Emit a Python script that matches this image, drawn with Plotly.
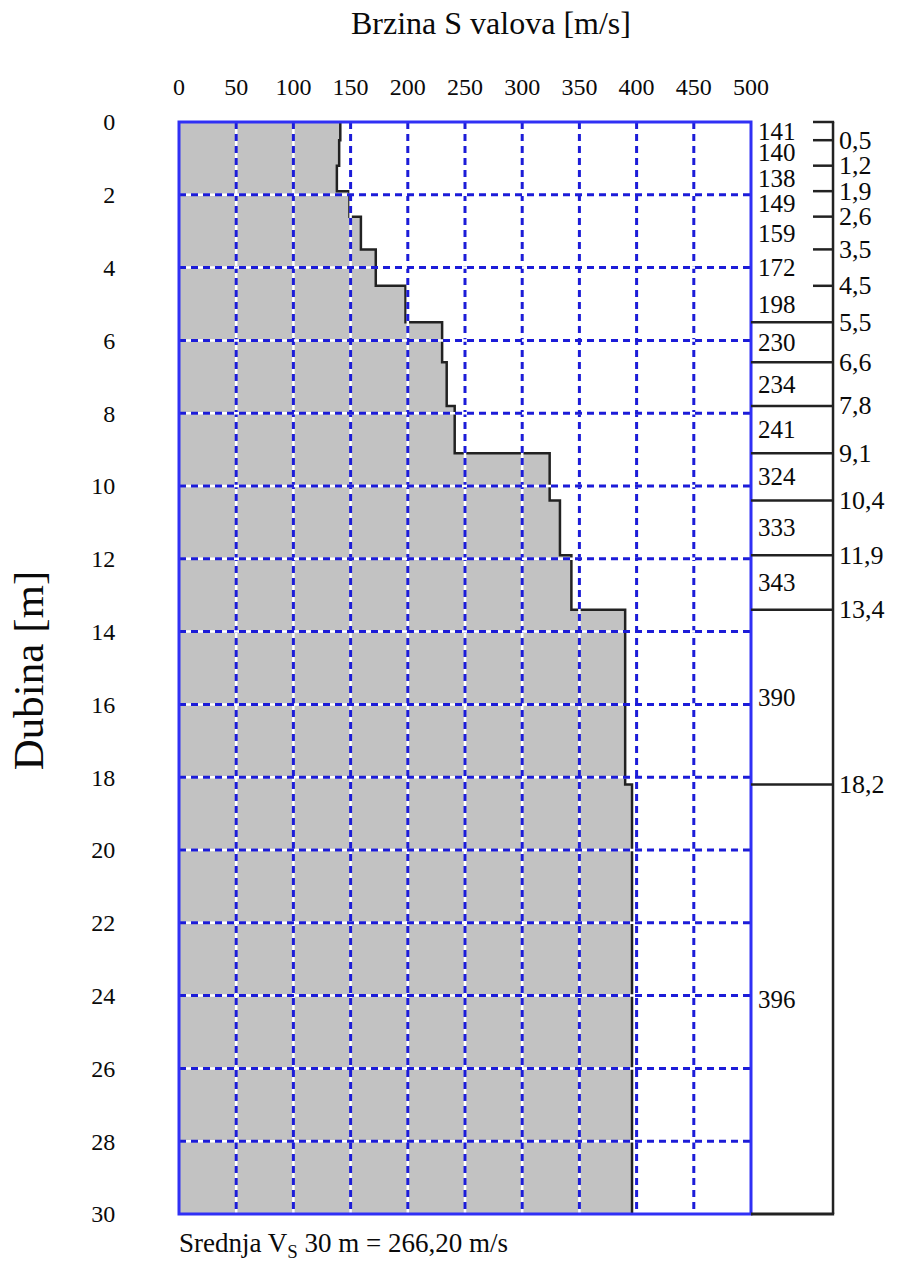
import plotly.graph_objects as go

# ---- data ----
layer_tops = [0, 0.5, 1.2, 1.9, 2.6, 3.5, 4.5, 5.5, 6.6, 7.8, 9.1, 10.4, 11.9, 13.4, 18.2]
layer_bottoms = [0.5, 1.2, 1.9, 2.6, 3.5, 4.5, 5.5, 6.6, 7.8, 9.1, 10.4, 11.9, 13.4, 18.2, 30]
vs_values = [141, 140, 138, 149, 159, 172, 198, 230, 234, 241, 324, 333, 343, 390, 396]
boundary_labels = ["0,5", "1,2", "1,9", "2,6", "3,5", "4,5", "5,5", "6,6", "7,8", "9,1",
                   "10,4", "11,9", "13,4", "18,2"]
boundary_depths = [0.5, 1.2, 1.9, 2.6, 3.5, 4.5, 5.5, 6.6, 7.8, 9.1, 10.4, 11.9, 13.4, 18.2]
full_boundaries = [5.5, 6.6, 7.8, 9.1, 10.4, 11.9, 13.4, 18.2]
short_ticks = [0.5, 1.2, 1.9, 2.6, 3.5, 4.5]
x_ticks = [0, 50, 100, 150, 200, 250, 300, 350, 400, 450, 500]
y_ticks = [0, 2, 4, 6, 8, 10, 12, 14, 16, 18, 20, 22, 24, 26, 28, 30]
max_depth = 30

FONT = "Liberation Serif"
GRID_BLUE = "#1c1cd8"
BORDER_BLUE = "#3030f5"
LINE_BLACK = "#222222"
TEXT = "#0a0a0a"

fig = go.Figure()

# step profile with fill
xs = vs_values + [vs_values[-1]]
ys = layer_tops + [max_depth]
fig.add_trace(go.Scatter(
    x=xs, y=ys, mode="lines", line=dict(shape="vh", color=LINE_BLACK, width=2.5),
    fill="tozerox", fillcolor="#c2c2c2", hoverinfo="skip", showlegend=False))

shapes = []
# grid lines (above fill): white base + blue dashes
for xv in x_ticks[1:-1]:
    for col, dash, w in (("white", "solid", 2.5), (GRID_BLUE, "7px,5px", 3)):
        shapes.append(dict(type="line", xref="x", yref="y", x0=xv, x1=xv, y0=0, y1=max_depth,
                           line=dict(color=col, width=w, dash=dash), layer="above"))
for yv in y_ticks[1:-1]:
    for col, dash, w in (("white", "solid", 2.5), (GRID_BLUE, "7px,5px", 3)):
        shapes.append(dict(type="line", xref="x", yref="y", x0=0, x1=500, y0=yv, y1=yv,
                           line=dict(color=col, width=w, dash=dash), layer="above"))
# plot border (domain refs so it is not clipped)
shapes.append(dict(type="rect", xref="x domain", yref="y domain", x0=0, x1=1, y0=0, y1=1,
                   line=dict(color=BORDER_BLUE, width=3), layer="above"))

# right column (layer table)
col_left = 1.0
col_right = 1.1434
tick_left = 1.1084
shapes.append(dict(type="line", xref="paper", yref="y domain", x0=col_right, x1=col_right,
                   y0=0, y1=1, line=dict(color=LINE_BLACK, width=2.5)))
shapes.append(dict(type="line", xref="paper", yref="y domain", x0=col_left, x1=col_right + 0.002,
                   y0=0, y1=0, line=dict(color=LINE_BLACK, width=3)))
shapes.append(dict(type="line", xref="paper", yref="y domain", x0=tick_left, x1=col_right + 0.002,
                   y0=1, y1=1, line=dict(color=LINE_BLACK, width=2.5)))
for d in full_boundaries:
    shapes.append(dict(type="line", xref="paper", yref="y", x0=col_left, x1=col_right,
                       y0=d, y1=d, line=dict(color=LINE_BLACK, width=2.5)))
for d in short_ticks:
    shapes.append(dict(type="line", xref="paper", yref="y", x0=tick_left, x1=col_right,
                       y0=d, y1=d, line=dict(color=LINE_BLACK, width=2.5)))

annotations = []
for top, bot, v in zip(layer_tops, layer_bottoms, vs_values):
    annotations.append(dict(xref="paper", yref="y", x=1.009, y=(top + bot) / 2,
                            text=str(v), showarrow=False, xanchor="left", yanchor="middle",
                            font=dict(family=FONT, size=25, color=TEXT)))
for d, lab in zip(boundary_depths, boundary_labels):
    annotations.append(dict(xref="paper", yref="y", x=1.150, y=d,
                            text=lab, showarrow=False, xanchor="left", yanchor="middle",
                            font=dict(family=FONT, size=26, color=TEXT)))

# titles
annotations.append(dict(xref="paper", yref="paper", x=0.545, y=1.0906, text="Brzina S valova [m/s]",
                        showarrow=False, xanchor="center", yanchor="middle",
                        font=dict(family=FONT, size=32, color=TEXT)))
annotations.append(dict(xref="paper", yref="paper", x=(28 - 179) / 572, y=0.498, text="Dubina [m]",
                        showarrow=False, xanchor="center", yanchor="middle", textangle=-90,
                        font=dict(family=FONT, size=43, color=TEXT)))
annotations.append(dict(xref="paper", yref="paper", x=-0.004, y=-0.0284,
                        text="Srednja V<sub>S</sub> 30 m = 266,20 m/s",
                        showarrow=False, xanchor="left", yanchor="middle",
                        font=dict(family=FONT, size=27, color=TEXT)))

fig.update_layout(
    width=900, height=1276,
    margin=dict(l=171, r=157, t=114, b=70),
    paper_bgcolor="white", plot_bgcolor="white",
    shapes=shapes, annotations=annotations,
    xaxis=dict(side="top", range=[0, 500], tickvals=x_ticks, showgrid=False, zeroline=False,
               showline=False, ticks="outside", ticklen=16, tickcolor="rgba(0,0,0,0)",
               tickfont=dict(family=FONT, size=24, color=TEXT)),
    yaxis=dict(range=[max_depth, 0], tickvals=y_ticks, showgrid=False, zeroline=False,
               showline=False, ticks="outside", ticklen=58, tickcolor="rgba(0,0,0,0)",
               tickfont=dict(family=FONT, size=24, color=TEXT)),
)

fig.write_html("out.html")
